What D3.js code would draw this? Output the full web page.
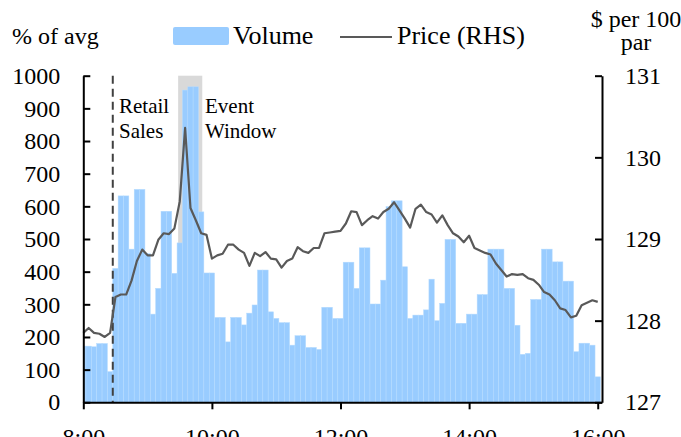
<!DOCTYPE html>
<html>
<head>
<meta charset="utf-8">
<script src="https://cdn.jsdelivr.net/npm/d3@7"></script>
<style>
  html, body { margin: 0; padding: 0; background: #fff; }
  svg { display: block; }
  text { font-family: "Liberation Serif", "Times New Roman", serif; fill: #000; }
</style>
</head>
<body>
<svg id="chart" width="681" height="437"></svg>
<script>
// 5-minute buckets, 8:00 to 16:00
var times = d3.timeMinutes(new Date(2020, 0, 1, 8, 0), new Date(2020, 0, 1, 16, 1), 5);

// Volume, % of average
var volume = [
  172, 172, 170, 180, 180, 94, 410, 632, 632, 469,
  652, 652, 455, 270, 349, 585, 585, 395, 488, 956,
  966, 966, 583, 396, 396, 260, 260, 185, 260, 260,
  237, 273, 298, 405, 405, 277, 257, 244, 244, 175,
  204, 204, 168, 168, 162, 291, 291, 257, 257, 429,
  429, 349, 473, 473, 301, 301, 374, 599, 617, 617,
  415, 257, 267, 267, 283, 377, 250, 303, 499, 499,
  242, 242, 270, 270, 330, 330, 469, 469, 469, 349,
  349, 236, 147, 150, 315, 315, 469, 469, 430, 430,
  371, 371, 155, 181, 181, 175, 78
];

// Price, $ per 100 par (RHS)
var price = [
  127.85, 127.91, 127.85, 127.84, 127.80, 127.85, 128.29, 128.32, 128.32, 128.49,
  128.73, 128.87, 128.80, 128.80, 128.99, 129.07, 129.06, 129.13, 129.46, 130.36,
  129.38, 129.23, 129.07, 129.05, 128.76, 128.80, 128.82, 128.93, 128.93, 128.87,
  128.83, 128.67, 128.83, 128.79, 128.84, 128.76, 128.75, 128.65, 128.73, 128.76,
  128.90, 128.85, 128.83, 128.89, 128.89, 129.07, 129.08, 129.09, 129.10, 129.19,
  129.34, 129.33, 129.17, 129.23, 129.28, 129.25, 129.33, 129.37, 129.45, 129.35,
  129.25, 129.14, 129.37, 129.42, 129.33, 129.30, 129.20, 129.29, 129.17, 129.07,
  129.03, 128.96, 129.04, 128.89, 128.86, 128.83, 128.81, 128.70, 128.62, 128.54,
  128.57, 128.56, 128.57, 128.52, 128.50, 128.44, 128.35, 128.32, 128.25, 128.15,
  128.13, 128.04, 128.06, 128.19, 128.22, 128.25, 128.23
];

var leftTicks = [0, 100, 200, 300, 400, 500, 600, 700, 800, 900, 1000];
var rightTicks = [127, 128, 129, 130, 131];
var xTickHours = [8, 10, 12, 14, 16];

// Annotations
var retailSales = new Date(2020, 0, 1, 8, 27, 30);
var eventWindow = [new Date(2020, 0, 1, 9, 28, 30), new Date(2020, 0, 1, 9, 51)];

// Layout
var LEFT = 83.3, RIGHT = 602, TOP = 75.7, BOTTOM = 402.3;
var BAR_COLOR = "#99CCFF";
var LINE_COLOR = "#595959";

var svg = d3.select("#chart");

var x = d3.scaleTime()
    .domain([new Date(2020, 0, 1, 8, 0), new Date(2020, 0, 1, 16, 4)])
    .range([LEFT, RIGHT]);
var yL = d3.scaleLinear().domain([0, 1000]).range([BOTTOM, TOP]);
var yR = d3.scaleLinear().domain([127, 131]).range([BOTTOM, TOP]);

svg.append("defs").append("clipPath").attr("id", "plot")
  .append("rect")
    .attr("x", LEFT).attr("y", TOP - 2)
    .attr("width", RIGHT - LEFT).attr("height", BOTTOM - TOP + 2);

var plot = svg.append("g").attr("clip-path", "url(#plot)");

// event window band
plot.append("rect")
    .attr("x", x(eventWindow[0]))
    .attr("y", TOP)
    .attr("width", x(eventWindow[1]) - x(eventWindow[0]))
    .attr("height", BOTTOM - TOP)
    .attr("fill", "#D9D9D9");

// volume bars
var half = 2.5 * 60 * 1000;
plot.selectAll("rect.bar")
    .data(volume)
    .enter()
    .append("rect")
    .attr("class", "bar")
    .attr("x", function(d, i) { return x(new Date(+times[i] - half)); })
    .attr("width", function(d, i) { return x(new Date(+times[i] + half)) - x(new Date(+times[i] - half)); })
    .attr("y", function(d) { return yL(d); })
    .attr("height", function(d) { return BOTTOM - yL(d); })
    .attr("fill", BAR_COLOR)
    .attr("stroke", "#b5dbff")
    .attr("stroke-width", 0.5);

// retail sales marker
svg.append("line")
    .attr("x1", x(retailSales)).attr("x2", x(retailSales))
    .attr("y1", TOP).attr("y2", BOTTOM)
    .attr("stroke", "#404040")
    .attr("stroke-width", 2)
    .attr("stroke-dasharray", "8,5");

// price line
var line = d3.line()
    .x(function(d, i) { return x(times[i]); })
    .y(function(d) { return yR(d); });

svg.append("path")
    .datum(price)
    .attr("d", line)
    .attr("fill", "none")
    .attr("stroke", LINE_COLOR)
    .attr("stroke-width", 2.2)
    .attr("stroke-linejoin", "round");

// axes
var leftAxis = d3.axisLeft(yL).tickValues(leftTicks).tickFormat(d3.format("d"))
    .tickSize(-7).tickSizeOuter(0).tickPadding(23);
var rightAxis = d3.axisRight(yR).tickValues(rightTicks).tickFormat(d3.format("d"))
    .tickSize(-7).tickSizeOuter(0).tickPadding(23);
var bottomAxis = d3.axisBottom(x)
    .tickValues(xTickHours.map(function(h) { return new Date(2020, 0, 1, h, 0); }))
    .tickFormat(d3.timeFormat("%-H:%M"))
    .tickSize(7).tickSizeOuter(0).tickPadding(19);

function styleAxis(g) {
  g.selectAll(".domain").attr("stroke", "#000").attr("stroke-width", 2);
  g.selectAll(".tick line").attr("stroke", "#000").attr("stroke-width", 2);
  g.selectAll("text").attr("font-size", 24).attr("font-family", "Liberation Serif").attr("fill", "#000");
}

svg.append("g").attr("transform", "translate(" + LEFT + ",0)").call(leftAxis).call(styleAxis);
svg.append("g").attr("transform", "translate(" + RIGHT + ",0)").call(rightAxis).call(styleAxis);
svg.append("g").attr("transform", "translate(0," + BOTTOM + ")").call(bottomAxis).call(styleAxis);

// annotations
var ann = svg.append("g").attr("font-size", 21);
ann.append("text").attr("x", 119).attr("y", 112.5).text("Retail");
ann.append("text").attr("x", 119).attr("y", 138).text("Sales");
ann.append("text").attr("x", 205).attr("y", 112.5).text("Event");
ann.append("text").attr("x", 205).attr("y", 138).text("Window");

// axis titles
svg.append("text").attr("x", 12).attr("y", 44).attr("font-size", 24).text("% of avg");
svg.append("text").attr("x", 636).attr("y", 27).attr("font-size", 24)
    .attr("text-anchor", "middle").text("$ per 100");
svg.append("text").attr("x", 636).attr("y", 50).attr("font-size", 24)
    .attr("text-anchor", "middle").text("par");

// legend
var legend = svg.append("g");
legend.append("rect").attr("x", 173).attr("y", 27).attr("width", 56).attr("height", 18)
    .attr("rx", 2).attr("fill", BAR_COLOR);
legend.append("text").attr("x", 233).attr("y", 44).attr("font-size", 26).text("Volume");
legend.append("line").attr("x1", 340).attr("x2", 392).attr("y1", 37).attr("y2", 37)
    .attr("stroke", LINE_COLOR).attr("stroke-width", 2.2);
legend.append("text").attr("x", 397).attr("y", 44).attr("font-size", 26).text("Price (RHS)");
</script>
</body>
</html>
